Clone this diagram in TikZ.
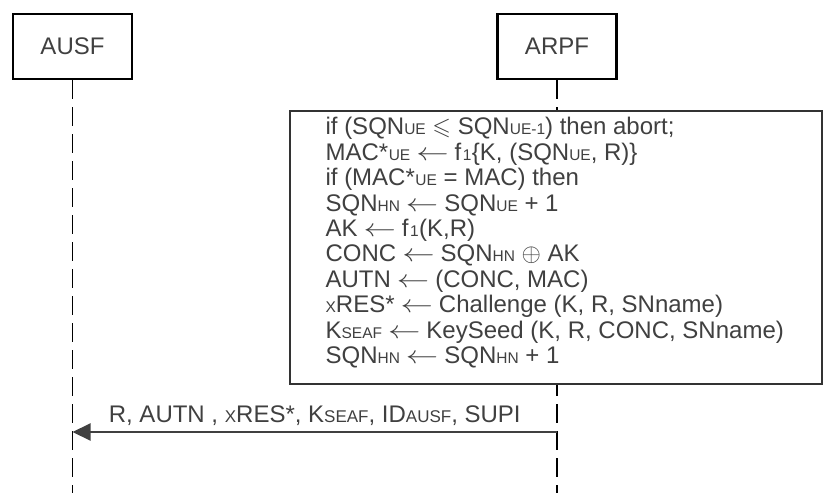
\documentclass[tikz,border=0pt]{standalone}
\usepackage{amssymb}
\usepackage{fontspec}
\setmainfont{Liberation Sans}
\usetikzlibrary{arrows.meta}
\newcommand{\lo}[1]{{\fontsize{15.5}{15.5}\selectfont #1}}
\newcommand{\lom}[1]{{\fontsize{17}{17}\selectfont #1}}
\newcommand{\assign}{\hspace{6pt}\scalebox{1.3}[1]{$\leftarrow$}\hspace{6pt}}
\begin{document}
\begin{tikzpicture}[x=1pt,y=-1pt,line width=1.2pt,
  every node/.style={font=\fontsize{24}{25.4}\selectfont,text=black!75},
  entity/.style={draw,line width=2.6pt,minimum width=119pt,minimum height=65pt},
  lifeline/.style={line width=1.3pt,dash pattern=on 19pt off 8pt}]
\useasboundingbox (0,0) rectangle (823,493);
\coordinate (ausfend) at (72.5,493);
\coordinate (arpfend) at (557,493);
\node[entity] (ausf) at (72.5,46.5) {AUSF};
\node[entity] (arpf) at (557,46.5) {ARPF};
\draw[lifeline] (ausf) -- (ausfend);
\draw[lifeline] (arpf) -- (arpfend);
% processing in ARPF
\node[draw=black!80,fill=white,line width=1.6pt,minimum width=532pt,minimum height=273pt,anchor=north west] (proc) at (289,110) {};
\node[anchor=north west,align=left,inner sep=0pt] (steps) at (325,117) {%
if (SQN\lo{UE} $\leqslant$ SQN\lo{UE-1}) then abort;\\
MAC*\kern0.5pt\lo{UE}\assign f\kern1.5pt\lo{1}\kern0.5pt\{K, (SQN\lo{UE}, R)\}\\
if (MAC*\kern0.5pt\lo{UE} = MAC) then\\
SQN\lo{HN}\assign SQN\lo{UE} + 1\\
AK\assign f\kern1.5pt\lo{1}\kern0.5pt(K,R)\\
CONC\assign SQN\lo{HN} $\oplus$ AK\\
AUTN\assign (CONC, MAC)\\
\lo{X}RES*\assign Challenge (K, R, SNname)\\
K\lo{SEAF}\assign KeySeed (K, R, CONC, SNname)\\
SQN\lo{HN}\assign SQN\lo{HN} + 1};
% response
\coordinate (rsp) at (557,432);
\coordinate (rspend) at (72.5,432);
\draw[-{Triangle[length=18pt,width=17pt]},line width=2pt,black!75] (rsp) -- (rspend)
  node[pos=0.5,anchor=base,yshift=10pt] (msg) {R, AUTN , \lom{X}RES*, K\lom{SEAF}, ID\lom{AUSF}, SUPI};
\end{tikzpicture}
\end{document}
